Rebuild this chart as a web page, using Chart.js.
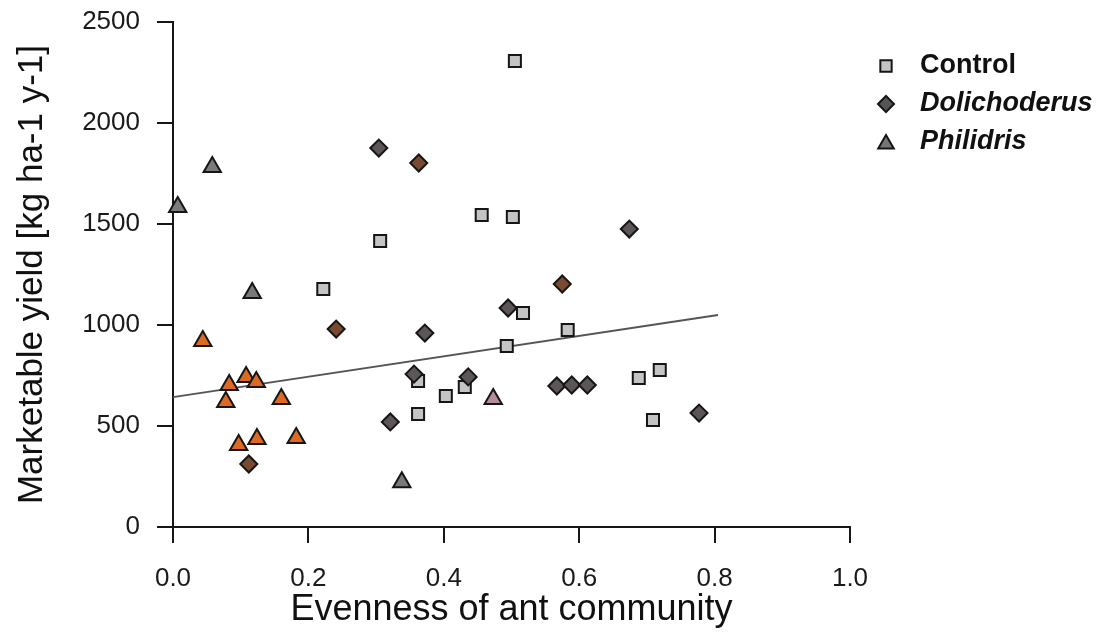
<!DOCTYPE html>
<html>
<head>
<meta charset="utf-8">
<script src="https://cdn.jsdelivr.net/npm/chart.js"></script>
<style>
  body { margin: 0; background: #fff; }
  #wrap { width: 1110px; height: 640px; }
</style>
</head>
<body>
<div id="wrap"><canvas id="chart" width="1110" height="640"></canvas></div>
<script>
// values (x = evenness, y = yield)
const controlPts = [
  { x: 0.505, y: 2307 }, { x: 0.456, y: 1544 }, { x: 0.502, y: 1535 },
  { x: 0.306, y: 1416 }, { x: 0.222, y: 1178 }, { x: 0.517, y: 1059 },
  { x: 0.583, y: 975 }, { x: 0.493, y: 896 }, { x: 0.688, y: 738 },
  { x: 0.719, y: 777 }, { x: 0.709, y: 530 }, { x: 0.362, y: 723 },
  { x: 0.362, y: 559 }, { x: 0.403, y: 648 }, { x: 0.431, y: 693 }
];
const dolichoderusPts = [
  { x: 0.304, y: 1876 }, { x: 0.674, y: 1475 }, { x: 0.495, y: 1084 },
  { x: 0.372, y: 960 }, { x: 0.356, y: 757 }, { x: 0.436, y: 743 },
  { x: 0.567, y: 698 }, { x: 0.589, y: 703 }, { x: 0.612, y: 703 },
  { x: 0.777, y: 564 }, { x: 0.321, y: 520 }
];
// brown-shaded Dolichoderus points
const dolichoderusBrown = [
  { x: 0.363, y: 1802 }, { x: 0.575, y: 1203 }, { x: 0.241, y: 980 },
  { x: 0.112, y: 312 }
];
const philidrisPts = [
  { x: 0.058, y: 1782 }, { x: 0.007, y: 1584 }, { x: 0.117, y: 1158 },
  { x: 0.338, y: 222 }
];
const philidrisPink = [{ x: 0.473, y: 634 }];
// orange-shaded Philidris points
const philidrisOrange = [
  { x: 0.044, y: 921 }, { x: 0.083, y: 703 }, { x: 0.108, y: 743 },
  { x: 0.123, y: 718 }, { x: 0.078, y: 619 }, { x: 0.160, y: 634 },
  { x: 0.097, y: 406 }, { x: 0.124, y: 436 }, { x: 0.182, y: 441 }
];
const fitLine = [{ x: 0, y: 643 }, { x: 0.805, y: 1049 }];

const legendItems = ["Control", "Dolichoderus", "Philidris"];
const xTitle = "Evenness of ant community";
const yTitle = "Marketable yield [kg ha-1 y-1]";

const FONT = "'Liberation Sans', Arial, sans-serif";
const EDGE = "#161616";

function pts(label, data, style, fill, r, order) {
  return {
    type: "scatter", label, data, order,
    pointStyle: style, pointRadius: r, pointHoverRadius: r,
    backgroundColor: fill, borderColor: EDGE, borderWidth: 2
  };
}

// hand-drawn legend, since two labels are italic
const sideLegend = {
  id: "sideLegend",
  afterDraw(chart) {
    const ctx = chart.ctx;
    const marks = [
      { style: "rect", fill: "#c4c4c4", r: 8, font: "bold" },
      { style: "rectRot", fill: "#555555", r: 8, font: "italic bold" },
      { style: "triangle", fill: "#777777", r: 9, font: "italic bold" }
    ];
    ctx.save();
    legendItems.forEach((txt, i) => {
      const y = 66 + i * 38;
      ctx.fillStyle = marks[i].fill;
      ctx.strokeStyle = EDGE;
      ctx.lineWidth = 2;
      Chart.helpers.drawPoint(ctx, { pointStyle: marks[i].style, radius: marks[i].r, rotation: 0, borderWidth: 2 }, 886, y + (i === 2 ? 2 : 0));
      ctx.fillStyle = "#111";
      ctx.font = marks[i].font + " 27px " + FONT;
      ctx.textBaseline = "middle";
      ctx.fillText(txt, 920, y);
    });
    ctx.restore();
  }
};

new Chart(document.getElementById("chart"), {
  type: "scatter",
  data: {
    datasets: [
      { type: "line", label: "fit", data: fitLine, borderColor: "#555555", borderWidth: 2,
        pointRadius: 0, fill: false, order: 9 },
      pts("Control", controlPts, "rect", "#c4c4c4", 8.5, 4),
      pts("Philidris", philidrisPts, "triangle", "#7a7a7a", 10, 3),
      pts("Philidris pink", philidrisPink, "triangle", "#b48c9a", 10, 3),
      pts("Philidris orange", philidrisOrange, "triangle", "#dd6a22", 10, 3),
      pts("Dolichoderus", dolichoderusPts, "rectRot", "#5c5658", 8.5, 1),
      pts("Dolichoderus brown", dolichoderusBrown, "rectRot", "#7a4a30", 8.5, 1)
    ]
  },
  options: {
    responsive: false,
    animation: false,
    clip: false,
    layout: { padding: { left: 0, right: 260, top: 22, bottom: 0 } },
    plugins: { legend: { display: false }, tooltip: { enabled: false } },
    scales: {
      x: {
        type: "linear", min: 0, max: 1,
        afterFit: s => { s.height = 113; s.paddingRight = 0; s.paddingLeft = 0; },
        grid: { display: true, drawOnChartArea: false, drawTicks: true, tickLength: 16, color: EDGE, lineWidth: 2 },
        border: { display: true, color: EDGE, width: 2 },
        ticks: { stepSize: 0.2, padding: 20, color: "#1a1a1a", font: { family: FONT, size: 26 },
          callback: v => v.toFixed(1) },
        title: { display: true, text: xTitle, color: "#111", font: { family: FONT, size: 36 },
          padding: { top: 0, bottom: 8 } }
      },
      y: {
        type: "linear", min: 0, max: 2500,
        afterFit: s => { s.width = 173; s.paddingTop = 0; s.paddingBottom = 0; },
        grid: { display: true, drawOnChartArea: false, drawTicks: true, tickLength: 16, color: EDGE, lineWidth: 2 },
        border: { display: true, color: EDGE, width: 2 },
        ticks: { stepSize: 500, padding: 17, color: "#1a1a1a", font: { family: FONT, size: 26 },
          callback: v => String(v) },
        title: { display: true, text: yTitle, color: "#111", font: { family: FONT, size: 35 },
          padding: { top: 11, bottom: 0 } }
      }
    }
  },
  plugins: [sideLegend]
});
</script>
</body>
</html>
